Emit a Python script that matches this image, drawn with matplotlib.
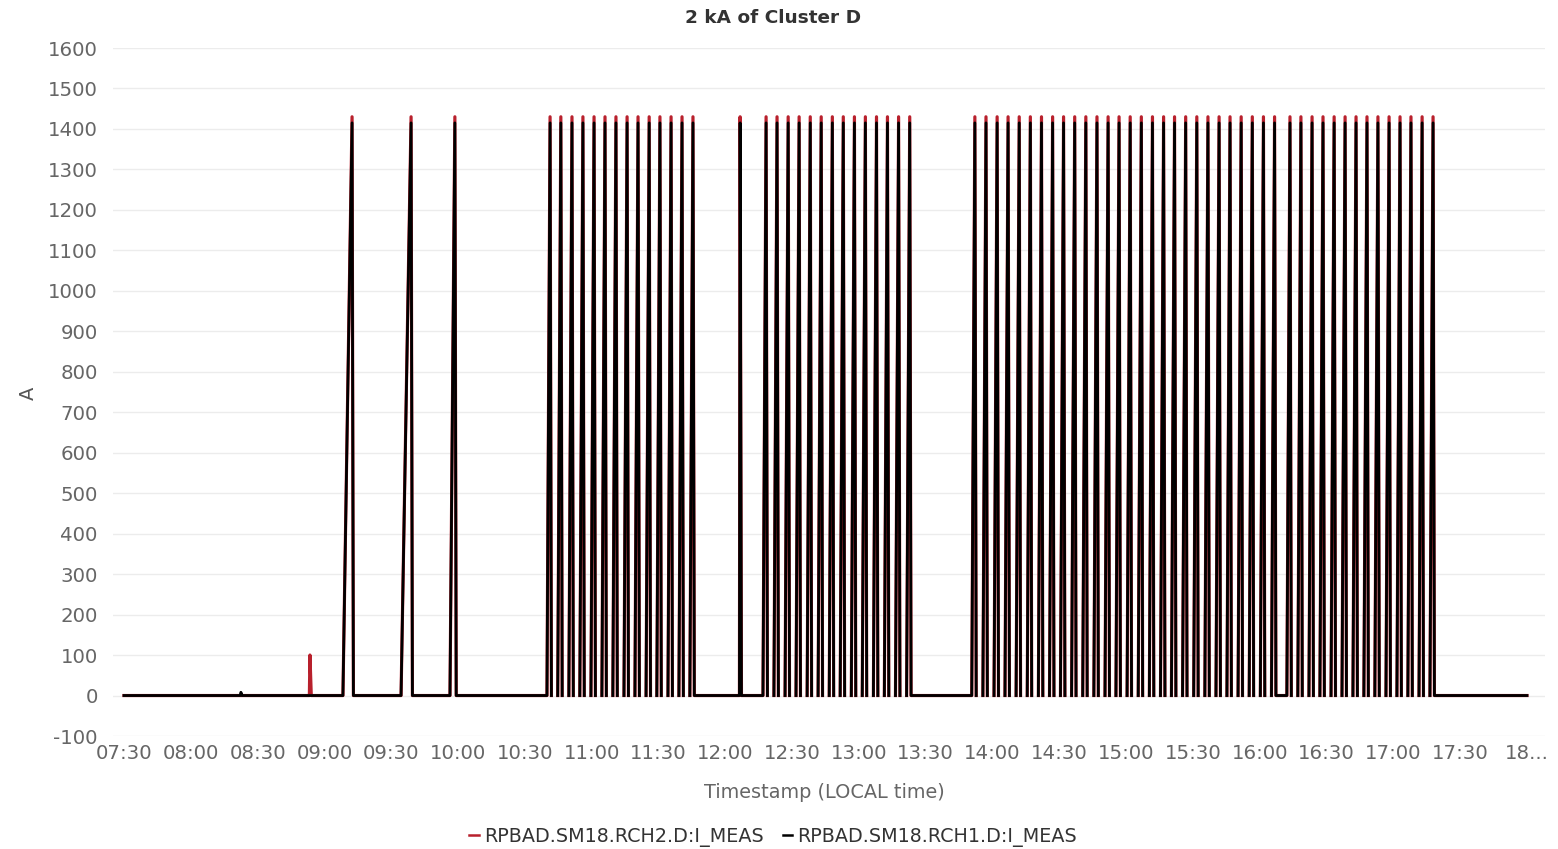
import numpy as np
import pandas as pd
import matplotlib
matplotlib.use("Agg")
import matplotlib.pyplot as plt
import matplotlib.dates as mdates
from matplotlib.lines import Line2D

# ---------------- data ----------------
DAY = "2024-05-14 "
title = "2 kA of Cluster D"
series_names = ["RPBAD.SM18.RCH2.D:I_MEAS", "RPBAD.SM18.RCH1.D:I_MEAS"]
y_label = "A"
x_label = "Timestamp (LOCAL time)"

x_tick_times = ["07:30", "08:00", "08:30", "09:00", "09:30", "10:00", "10:30",
                "11:00", "11:30", "12:00", "12:30", "13:00", "13:30", "14:00",
                "14:30", "15:00", "15:30", "16:00", "16:30", "17:00", "17:30",
                "18:00"]
x_tick_labels = ["07:30", "08:00", "08:30", "09:00", "09:30", "10:00", "10:30",
                 "11:00", "11:30", "12:00", "12:30", "13:00", "13:30", "14:00",
                 "14:30", "15:00", "15:30", "16:00", "16:30", "17:00", "17:30",
                 "18..."]
y_ticks = [-100, 0, 100, 200, 300, 400, 500, 600, 700, 800, 900, 1000, 1100,
           1200, 1300, 1400, 1500, 1600]

t_first = "07:30"
t_last = "18:00"
view_start = "07:25:04"
view_end = "18:08:06"

# pulse peak times, grouped in bursts (pulses inside a burst are not joined)
burst_peaks = [
    ["09:12:25"],
    ["09:38:55"],
    ["09:58:35"],
    ["10:41:20", "10:46:10", "10:51:10", "10:56:05", "11:01:05", "11:06:00",
     "11:10:55", "11:15:55", "11:20:50", "11:25:50", "11:30:40", "11:35:40",
     "11:40:35", "11:45:30"],
    ["12:06:40"],
    ["12:18:20", "12:23:15", "12:28:15", "12:33:10", "12:38:10", "12:43:05",
     "12:48:05", "12:53:00", "12:58:00", "13:02:55", "13:07:55", "13:12:50",
     "13:17:50", "13:22:50"],
    ["13:52:05", "13:57:05", "14:02:05", "14:07:00", "14:12:00", "14:17:00",
     "14:22:00", "14:27:00", "14:31:55", "14:36:55", "14:41:55", "14:46:55",
     "14:51:55", "14:56:50", "15:01:50", "15:06:50", "15:11:50", "15:16:50",
     "15:21:45", "15:26:45", "15:31:45", "15:36:45", "15:41:45", "15:46:40",
     "15:51:40", "15:56:40", "16:01:40", "16:06:40"],
    ["16:13:35", "16:18:30", "16:23:30", "16:28:25", "16:33:25", "16:38:20",
     "16:43:15", "16:48:10", "16:53:05", "16:58:05", "17:03:00", "17:07:55",
     "17:12:55", "17:17:50"],
]
burst_rise_min = [4.1, 4.5, 2.2, 1.4, 0.3, 1.4, 1.4, 1.4]
fall_min = 0.6

rch1_peak = 1415.0          # black series
rch2_peak = 1430.0          # red series
rch1_blip = ("08:22:30", 8.0)
rch2_spike = ("08:53:30", 100.0)

# ---------------- helpers ----------------
def ts(s):
    return mdates.date2num(pd.Timestamp(DAY + s))


def build_series(peak_value, extra):
    bursts = [(p, r, peak_value) for p, r in zip(burst_peaks, burst_rise_min)]
    bursts.append(([extra[0]], 0.25, extra[1]))
    bursts.sort(key=lambda b: ts(b[0][0]))
    xs, ys = [ts(t_first)], [0.0]
    for peaks, rise, val in bursts:
        for i, p in enumerate(peaks):
            c = ts(p)
            if i:
                xs.append(np.nan)
                ys.append(np.nan)
            xs += [c - rise / 1440.0, c, c + fall_min / 1440.0]
            ys += [0.0, val, 0.0]
    xs.append(ts(t_last))
    ys.append(0.0)
    return np.array(xs), np.array(ys)


x2, y2 = build_series(rch2_peak, rch2_spike)
x1, y1 = build_series(rch1_peak, rch1_blip)

# ---------------- figure ----------------
W, H = 1558, 849
fig = plt.figure(figsize=(W / 100, H / 100), dpi=100)
ax = fig.add_axes([113 / W, (H - 736) / H, (1545 - 113) / W, (736 - 48) / H])

red = "#b8202c"
ax.plot(x2, y2, color=red, lw=2.3, zorder=2, solid_joinstyle="round")
ax.plot(x1, y1, color="#000000", lw=2.0, zorder=3, solid_joinstyle="round")

ax.set_xlim(ts(view_start), ts(view_end))
ax.set_ylim(-100, 1600)
ax.set_yticks(y_ticks)
ax.set_yticklabels([str(v) for v in y_ticks])
ax.set_xticks([ts(t) for t in x_tick_times])
ax.set_xticklabels(x_tick_labels)

ax.grid(axis="y", color="#ececec", lw=1.0, zorder=0)
ax.grid(axis="x", visible=False)
for s in ax.spines.values():
    s.set_visible(False)
ax.tick_params(axis="both", length=0, labelsize=14.2, labelcolor="#666666")
ax.tick_params(axis="y", pad=11)
ax.tick_params(axis="x", pad=6)

fig.text(773 / W, 1 - 18 / H, title, ha="center", va="center",
         fontsize=13.3, fontweight="bold", color="#333333")
fig.text(824 / W, 1 - 792 / H, x_label, ha="center", va="center",
         fontsize=13.9, color="#666666")
fig.text(28 / W, 1 - 393 / H, y_label, ha="center", va="center",
         rotation=90, fontsize=14, color="#555555")

handles = [Line2D([0], [0], color=red, lw=1.8),
           Line2D([0], [0], color="#000000", lw=1.8)]
leg = fig.legend(handles, series_names, loc="center",
                 bbox_to_anchor=(773 / W, 1 - 837 / H), ncol=2, frameon=False,
                 handlelength=0.5, handletextpad=0.25, columnspacing=1.0,
                 prop={"family": "DejaVu Sans", "size": 13.8})
for t in leg.get_texts():
    t.set_color("#333333")

fig.savefig("out.png", dpi=100)
